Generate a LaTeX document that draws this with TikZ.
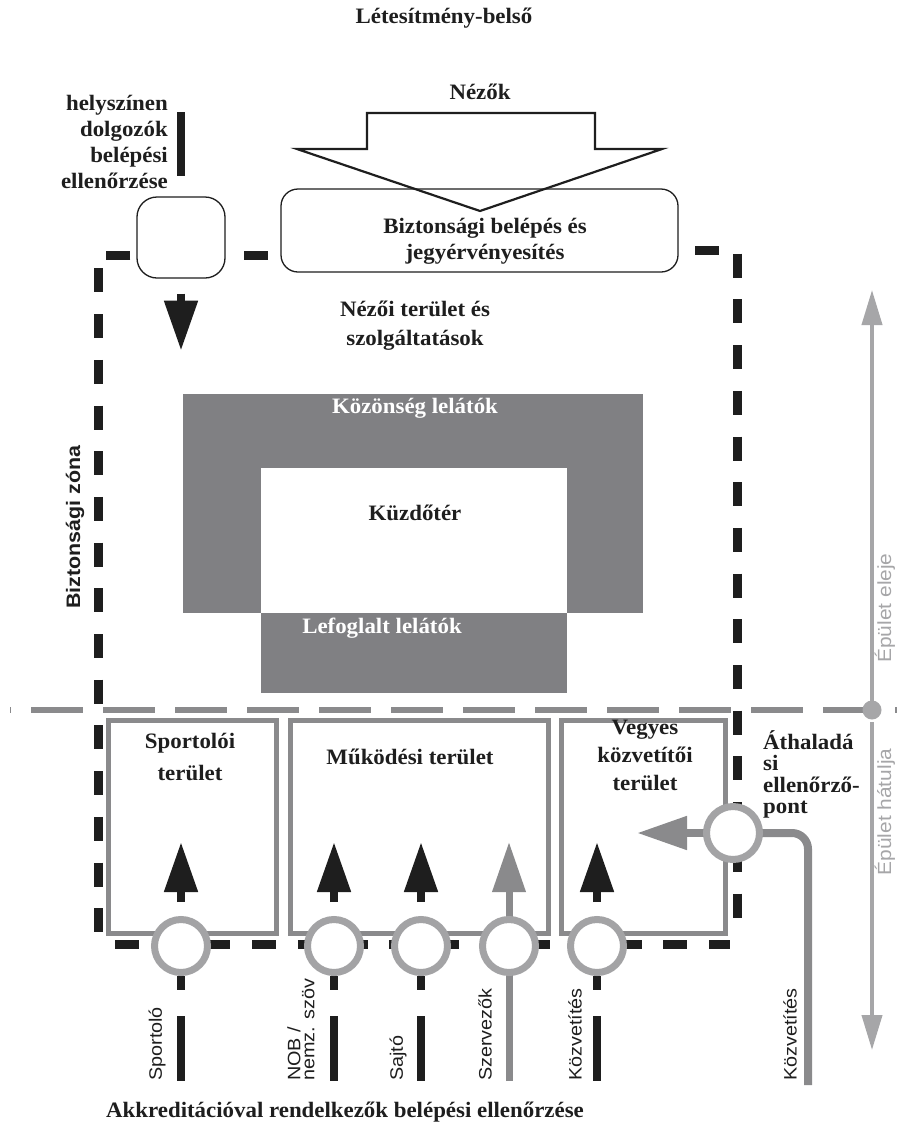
\documentclass[tikz,border=0pt]{standalone}
\usepackage{fontspec}
\setmainfont{Liberation Serif}
\newfontfamily\hdfont{Liberation Serif}[FakeStretch=1.04]
\newfontfamily\lbfont{Liberation Sans}[FakeStretch=1.1]
\usetikzlibrary{arrows.meta,calc}
\definecolor{ink}{HTML}{1E1E1E}
\definecolor{stand}{HTML}{808083}
\definecolor{boxgray}{HTML}{8A8A8C}
\definecolor{ringgray}{HTML}{A3A3A5}
\definecolor{palegray}{HTML}{A6A6A8}
\definecolor{linegray}{HTML}{8A8A8C}
\begin{document}
\begin{tikzpicture}[x=1pt,y=-1pt,
  hd/.style={font=\hdfont\bfseries\fontsize{22}{27}\selectfont, text=ink, align=center, inner sep=0pt},
  lbl/.style={font=\lbfont\fontsize{18}{14}\selectfont, text=ink, rotate=90, anchor=west, inner sep=0pt, align=left},
  secline/.style={draw=ink, line width=9pt},
  secdash/.style={secline, dash pattern=on 24pt off 21.7pt},
  area/.style={draw=boxgray, line width=5pt, fill=white, inner sep=0pt},
  ckpt/.style={circle, draw=ringgray, line width=7pt, fill=white, minimum size=53pt, inner sep=0pt},
  blkarrow/.style={draw=ink, line width=8pt, -{Triangle[width=32pt,length=50pt]}},
  grayarrow/.style={draw=linegray, line width=7pt, -{Triangle[width=32pt,length=50pt]}},
  blkbar/.style={draw=ink, line width=8pt},
  roundbox/.style={draw=ink, line width=1.3pt, fill=white, inner sep=0pt},
  sidelbl/.style={font=\lbfont\fontsize{19}{20}\selectfont, text=palegray, rotate=90, anchor=base, inner sep=0pt}
]
\useasboundingbox (0,0) rectangle (897,1133);
\fill[white] (0,0) rectangle (897,1133);

% ---------- stadium ----------
\fill[stand] (183,394) rectangle (643,613);
\fill[stand] (261,613) rectangle (567,693);
\fill[white] (261,468) rectangle (567,613);
\node[hd, text=white] (publicstands) at (415,408) {Közönség lelátók};
\node[hd] (field) at (415,513) {Küzdőtér};
\node[hd, text=white] (reserved) at (382,628) {Lefoglalt lelátók};

% ---------- building front / back divider ----------
\draw[linegray, line width=6pt, dash pattern=on 52pt off 20pt, dash phase=-21pt] (10,710) -- (897,710);
\coordinate (dot) at (872,710);
\draw[palegray, line width=4pt, -{Triangle[width=20pt,length=35pt]}] (dot) -- (872,290);
\draw[palegray, line width=4pt, -{Triangle[width=20pt,length=35pt]}] ($(dot)+(0,12)$) -- (872,1050);
\fill[palegray] (dot) circle (9.5pt);
\node[sidelbl] (front) at (891,608) {Épület eleje};
\node[sidelbl] (back) at (891,812) {Épület hátulja};

% ---------- top ----------
\node[hd] (title) at (444,18) {Létesítmény-belső};
\node[hd] (viewers) at (480,92) {Nézők};
\node[roundbox, rounded corners=17pt, minimum width=397pt, minimum height=83pt] (gate) at (479.5,230.5) {};
\draw[ink, line width=2.2pt, line join=miter] (367,113) -- (595,113) -- (595,149) -- (662,149) -- (480,211) -- (297,149) -- (367,149) -- cycle;
\node[hd, font=\hdfont\bfseries\fontsize{22}{26}\selectfont] (gatetext) at (485,241) {Biztonsági belépés és\\jegyérvényesítés};

\node[roundbox, rounded corners=20pt, minimum width=88pt, minimum height=81pt] (staffbox) at (181,237.5) {};
\node[hd, align=right, anchor=north east, font=\hdfont\bfseries\fontsize{22}{26}\selectfont] (stafftext) at (168,95) {helyszínen\\dolgozók\\belépési\\ellenőrzése};
\draw[blkbar] ($(staffbox.north)+(0,-84)$) -- ($(staffbox.north)+(0,-20)$);
\draw[blkarrow] ($(staffbox.south)+(0,15)$) -- ($(staffbox.south)+(0,72)$);

\node[hd, font=\hdfont\bfseries\fontsize{22}{29}\selectfont] (spectator) at (415,326) {Nézői terület és\\szolgáltatások};
\node[font=\lbfont\bfseries\fontsize{19.5}{20}\selectfont, text=ink, rotate=90, inner sep=0pt] (zone) at (75,527) {Biztonsági zóna};

% ---------- security zone (dashed black) ----------
\draw[secdash, dash phase=39pt] (137,255) -- (98,255) -- (98,944);
\draw[secdash, dash phase=28.7pt] (98,944) -- (730,944);
\draw[secdash, dash phase=28.7pt] (678,250) -- (737,250) -- (737,932);
\draw[secline] (244,255) -- (268,255);

% ---------- back areas ----------
\node[area, minimum width=168pt, minimum height=213pt] (athletearea) at (192.5,826.5) {};
\node[area, minimum width=258pt, minimum height=213pt] (oparea) at (419,826.5) {};
\node[area, minimum width=164pt, minimum height=213pt] (mediaarea) at (643,826.5) {};
\node[hd, font=\hdfont\bfseries\fontsize{22}{32}\selectfont] (athletetext) at (190,757) {Sportolói\\terület};
\node[hd] (optext) at (410,757) {Működési terület};
\node[hd, font=\hdfont\bfseries\fontsize{22}{28}\selectfont] (mediatext) at (645,755) {Vegyes\\közvetítői\\terület};

% ---------- checkpoints ----------
\coordinate (cA) at (181,946);
\coordinate (cN) at (334,946);
\coordinate (cS) at (421,946);
\coordinate (cO) at (509,946);
\coordinate (cK) at (597,946);
\coordinate (cP) at (733,833);

\draw[grayarrow] ($(cO)+(0,135)$) -- ($(cO)+(0,-104)$);
\draw[linegray, line width=8pt, rounded corners=16pt] (808,1085) -- (808,833) -- (cP);
\draw[grayarrow, line width=8pt] (cP) -- (637,833);

\foreach \c in {cA,cN,cS,cK}{
  \draw[blkbar] ($(\c)+(0,30)$) -- ($(\c)+(0,44)$);
  \draw[blkbar] ($(\c)+(0,70)$) -- ($(\c)+(0,135)$);
  \draw[blkarrow] ($(\c)+(0,-44)$) -- ($(\c)+(0,-104)$);
}

\node[ckpt] (cpA) at (cA) {};
\node[ckpt] (cpN) at (cN) {};
\node[ckpt] (cpS) at (cS) {};
\node[ckpt] (cpO) at (cO) {};
\node[ckpt] (cpK) at (cK) {};
\node[ckpt] (cpP) at (cP) {};

\node[hd, align=left, anchor=north west, font=\hdfont\bfseries\fontsize{22}{21.5}\selectfont] (passtext) at (763,730) {Áthaladá\\si\\ellenőrző-\\pont};

% ---------- entrant labels ----------
\node[lbl] (lA) at (157,1081) {Sportoló};
\node[lbl] (lN) at (301,1081) {NOB /\\nemz. szöv};
\node[lbl] (lS) at (398,1081) {Sajtó};
\node[lbl] (lO) at (485,1081) {Szervezők};
\node[lbl] (lK) at (575,1081) {Közvetítés};
\node[lbl] (lK2) at (790,1081) {Közvetítés};

\node[hd] (bottomtitle) at (345,1112) {Akkreditációval rendelkezők belépési ellenőrzése};
\end{tikzpicture}
\end{document}
